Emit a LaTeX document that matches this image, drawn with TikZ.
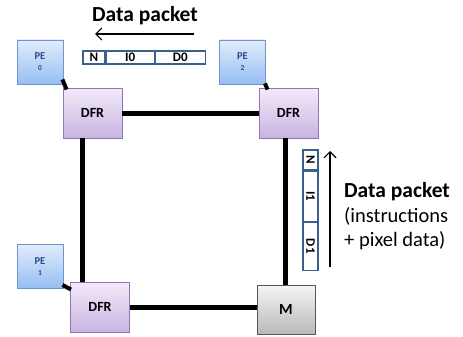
\documentclass[tikz,border=0pt]{standalone}
\usepackage{fontspec}
\setmainfont{Carlito}
\usetikzlibrary{arrows.meta}
\definecolor{pebord}{RGB}{110,150,205}
\definecolor{petop}{RGB}{225,236,252}
\definecolor{pebot}{RGB}{150,190,242}
\definecolor{petext}{RGB}{35,75,135}
\definecolor{dfrbord}{RGB}{150,115,185}
\definecolor{dfrtop}{RGB}{243,235,250}
\definecolor{dfrbot}{RGB}{200,180,225}
\definecolor{mbord}{RGB}{85,85,85}
\definecolor{mtop}{RGB}{245,245,245}
\definecolor{mbot}{RGB}{185,185,185}
\definecolor{pkbord}{RGB}{60,95,140}
\tikzset{
  pebox/.style={draw=pebord, line width=0.9pt, top color=petop, bottom color=pebot,
    minimum width=46pt, minimum height=44pt, inner sep=0pt, align=center,
    text=petext, font=\bfseries\fontsize{10.5}{12}\selectfont},
  dfrbox/.style={draw=dfrbord, line width=0.9pt, top color=dfrtop, bottom color=dfrbot,
    minimum width=59pt, minimum height=50pt, inner sep=0pt, font=\bfseries\fontsize{14}{16}\selectfont},
  mbox/.style={draw=mbord, line width=0.9pt, top color=mtop, bottom color=mbot,
    minimum width=58pt, minimum height=49pt, inner sep=0pt, font=\bfseries\fontsize{15.5}{18}\selectfont},
  pk/.style={draw=pkbord, line width=1.1pt, fill=white, inner sep=0pt, minimum height=13pt,
    font=\bfseries\fontsize{13}{14}\selectfont},
  pkv/.style={draw=pkbord, line width=1.1pt, fill=white, inner sep=0pt, minimum width=15pt,
    font=\bfseries\fontsize{13}{14}\selectfont},
  link/.style={line width=5pt, black},
  plink/.style={line width=4pt, black},
  flow/.style={line width=1.2pt, -{Straight Barb[length=6pt,width=12pt]}},
  lbl/.style={font=\bfseries\fontsize{21.5}{24}\selectfont, inner sep=0pt},
}
\begin{document}
\begin{tikzpicture}[x=1pt,y=-1pt]
\useasboundingbox (0,0) rectangle (463,337);
% PEs
\node[pebox] (pe0) at (40,62) {PE\\[-1pt]{\fontsize{7.5}{8}\selectfont 0}};
\node[pebox] (pe2) at (242.5,62) {PE\\[-1pt]{\fontsize{7.5}{8}\selectfont 2}};
\node[pebox] (pe1) at (40,266.5) {PE\\[-1pt]{\fontsize{7.5}{8}\selectfont 1}};
% routers
\node[dfrbox] (dfr0) at (92.5,113) {DFR};
\node[dfrbox] (dfr2) at (288.5,113) {DFR};
\node[dfrbox] (dfr1) at (100,307) {DFR};
\node[mbox] (m) at (286,309.5) {M};
% ring links
\draw[link] (dfr0.east) -- (dfr0.east -| dfr2.west);
\draw[link] (dfr0.south -| 82,0) -- (dfr1.north -| 82,0);
\draw[link] (dfr1.east) -- (dfr1.east -| m.west);
\draw[link] (dfr2.south -| 285,0) -- (m.north -| 285,0);
% PE links
\draw[plink] (pe0.south east) ++(-1,-5) -- ([shift={(4,2)}]dfr0.north west);
\draw[plink] (pe2.south east) ++(-1,-1) -- ([shift={(9,2)}]dfr2.north west);
\draw[plink] (pe1.south east) ++(-1,-4) -- ([shift={(1,8)}]dfr1.north west);
% horizontal packet
\node[pk, minimum width=22pt] (n0) at (94,57.5) {N};
\node[pk, minimum width=48pt, anchor=west] (i0) at (n0.east) {I0};
\node[pk, minimum width=50pt, anchor=west] (d0) at (i0.east) {D0};
\node[lbl] (t0) at (145,16) {Data packet};
\coordinate (a0s) at (194,34);
\coordinate (a0e) at (95,34);
\draw[flow] (a0s) -- (a0e);
% vertical packet
\node[pkv, minimum height=20pt] (n1) at (310.5,160) {\rotatebox{-90}{N}};
\node[pkv, minimum height=50pt, anchor=north] (i1) at (n1.south) {\rotatebox{-90}{I1}};
\node[pkv, minimum height=48pt, anchor=north] (d1) at (i1.south) {\rotatebox{-90}{D1}};
\coordinate (a1s) at (330,267);
\coordinate (a1e) at (330,151);
\draw[flow] (a1s) -- (a1e);
\node[lbl, anchor=west] (t1) at (344,192) {Data packet};
\node[anchor=north west, align=left, inner sep=0pt, font=\fontsize{20.5}{24}\selectfont] (t2) at (344,207) {(instructions\\+ pixel data)};
\end{tikzpicture}
\end{document}
